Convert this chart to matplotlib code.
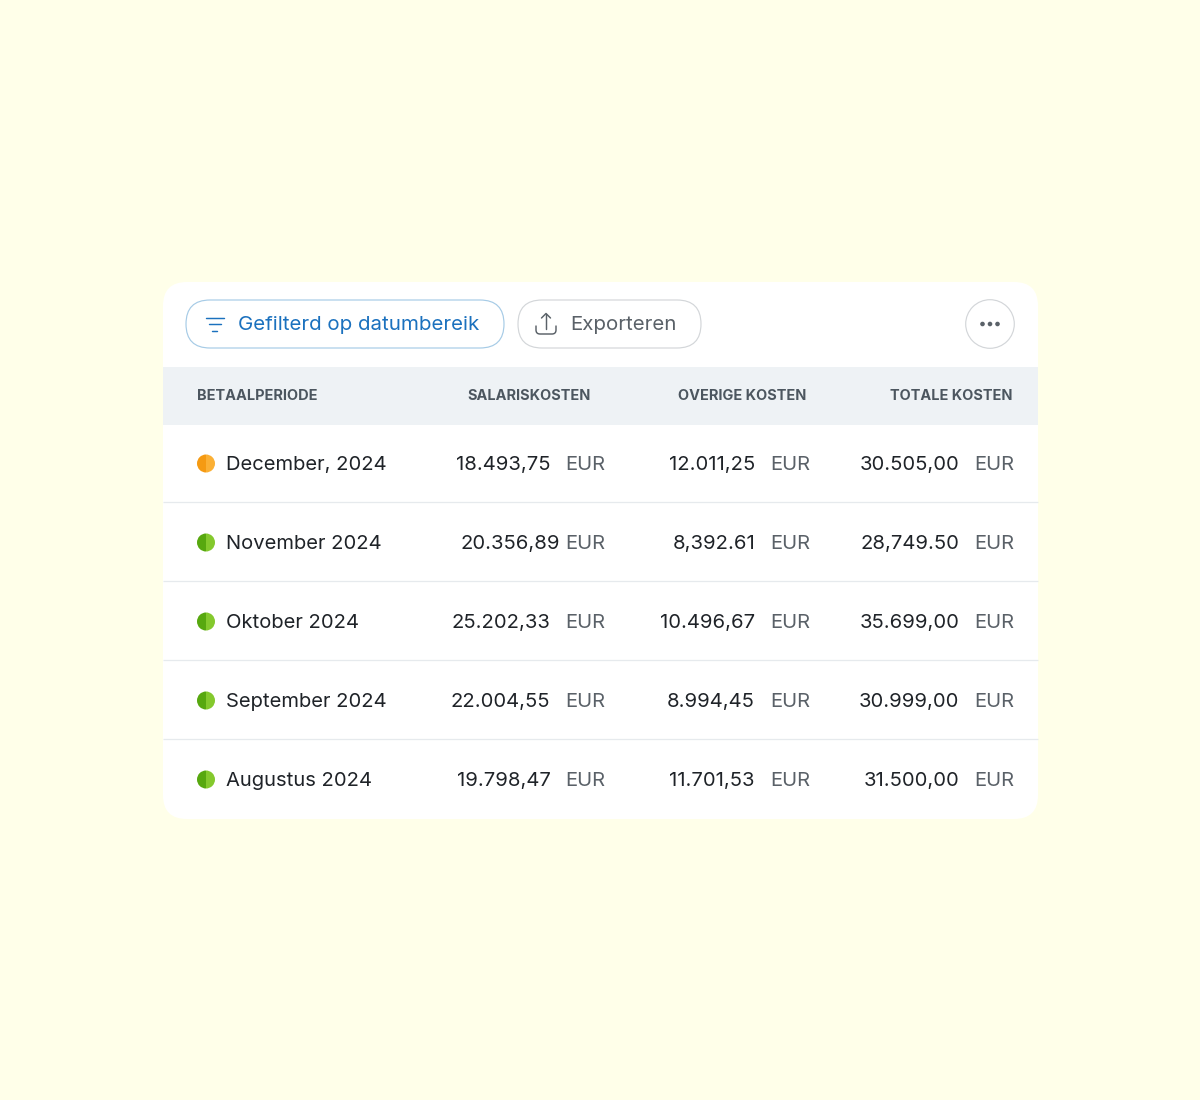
import matplotlib
matplotlib.use("Agg")
import matplotlib.pyplot as plt
from matplotlib.patches import FancyBboxPatch, Rectangle, Circle, Wedge, PathPatch
from matplotlib.path import Path

plt.rcParams['font.family'] = ['Inter', 'DejaVu Sans']

headers = ["BETAALPERIODE", "SALARISKOSTEN", "OVERIGE KOSTEN", "TOTALE KOSTEN"]
periods = ["December, 2024", "November 2024", "Oktober 2024", "September 2024", "Augustus 2024"]
salaris = ["18.493,75", "20.356,89", "25.202,33", "22.004,55", "19.798,47"]
overig = ["12.011,25", "8,392.61", "10.496,67", "8.994,45", "11.701,53"]
totaal = ["30.505,00", "28,749.50", "35.699,00", "30.999,00", "31.500,00"]
currency = "EUR"
status = ["orange", "green", "green", "green", "green"]
filter_label = "Gefilterd op datumbereik"
export_label = "Exporteren"

BG = "#FFFFE9"
CARD = "#FFFFFF"
HEAD = "#EEF2F5"
LINE = "#E6EAED"
DARK = "#1F2328"
GREY = "#5A6168"
HEADTXT = "#4C565F"
BLUE = "#1B71BE"
STATUS = {"orange": ("#F59A12", "#FBB035"), "green": ("#57A80F", "#84C92D")}
FS = 20.2
FS_BTN = 20.5
FS_HEAD = 14.5

W, H = 1200, 1100
fig = plt.figure(figsize=(W / 100, H / 100), dpi=100, facecolor=BG)
ax = fig.add_axes([0, 0, 1, 1])
ax.set_xlim(0, W)
ax.set_ylim(H, 0)
ax.axis("off")

def px(n):
    return n * 72 / 100

def rbox(x0, y0, x1, y1, r, fc, ec="none", lw=0, z=1):
    ax.add_patch(FancyBboxPatch((x0 + r, y0 + r), x1 - x0 - 2 * r, y1 - y0 - 2 * r,
                                boxstyle=f"round,pad={r},rounding_size={r}",
                                fc=fc, ec=ec, lw=lw, zorder=z))

# card
rbox(163, 282, 1038, 819, 24, CARD)

# header band
ax.add_patch(Rectangle((163, 367), 875, 58, fc=HEAD, ec="none", zorder=2))
ax.text(196.5, 395.5, headers[0], ha="left", va="center", fontsize=px(FS_HEAD), fontweight="bold", color=HEADTXT, zorder=3)
for label, xr in zip(headers[1:], (591, 806.5, 1012)):
    ax.text(xr, 395.5, label, ha="right", va="center", fontsize=px(FS_HEAD), fontweight="bold", color=HEADTXT, zorder=3)

# toolbar buttons
rbox(186, 300, 504, 348, 24, "#FFFFFF", ec="#A6CBE6", lw=0.85, z=3)
rbox(518, 300, 701, 348, 24, "#FFFFFF", ec="#D3D6D9", lw=0.85, z=3)
ax.add_patch(Circle((990, 324), 24.3, fc="#FFFFFF", ec="#D3D6D9", lw=0.85, zorder=3))

# filter icon
for y, a, b in ((317.5, 205.5, 223.5), (324, 208.5, 220.5), (330.5, 212, 217)):
    ax.plot([a, b], [y, y], color=BLUE, lw=1.05, solid_capstyle="round", zorder=4)
ax.text(238, 323.5, filter_label, ha="left", va="center_baseline", fontsize=px(FS_BTN), color=BLUE, zorder=4)

# export icon
ax.plot([546, 546], [314, 329], color=GREY, lw=1.05, solid_capstyle="round", zorder=4)
ax.plot([541.5, 546, 550.5], [318, 313.5, 318], color=GREY, lw=1.05, solid_capstyle="round", solid_joinstyle="round", zorder=4)
tray = Path([(536, 326), (536, 330), (536, 334), (540, 334), (552, 334), (556, 334), (556, 330), (556, 326)],
            [Path.MOVETO, Path.LINETO, Path.CURVE3, Path.CURVE3, Path.LINETO, Path.CURVE3, Path.CURVE3, Path.LINETO])
ax.add_patch(PathPatch(tray, fc="none", ec=GREY, lw=1.05, capstyle="round", joinstyle="round", zorder=4))
ax.text(570, 323.5, export_label, ha="left", va="center_baseline", fontsize=px(FS_BTN), color=GREY, zorder=4)

# more menu
for x in (982.5, 990, 997.5):
    ax.add_patch(Circle((x, 324), 2.3, fc=GREY, ec="none", zorder=4))

# rows
row_top, row_h = 424.5, 79
for i, period in enumerate(periods):
    yc = row_top + row_h * i + 38.5
    if i:
        ax.plot([163, 1038], [row_top + row_h * i - 2] * 2, color=LINE, lw=0.9, solid_capstyle="butt", zorder=2)
    c1, c2 = STATUS[status[i]]
    ax.add_patch(Wedge((206, yc + 0.5), 9, 90, 270, fc=c1, ec="none", zorder=3))
    ax.add_patch(Wedge((206, yc + 0.5), 9, 270, 90, fc=c2, ec="none", zorder=3))
    ax.text(226.5, yc, period, ha="left", va="center_baseline", fontsize=px(FS), color=DARK, zorder=3)
    for col, xr, xe in ((salaris, 550.5, 565.5), (overig, 755, 770), (totaal, 959.5, 974.5)):
        offset = 10 if col is salaris and i == 1 else 0
        ax.text(xr + offset, yc, col[i], ha="right", va="center_baseline", fontsize=px(FS), color=DARK, zorder=3)
        ax.text(xe, yc, currency, ha="left", va="center_baseline", fontsize=px(FS), color=GREY, zorder=3)

fig.savefig("out.png", dpi=100, facecolor=BG)
